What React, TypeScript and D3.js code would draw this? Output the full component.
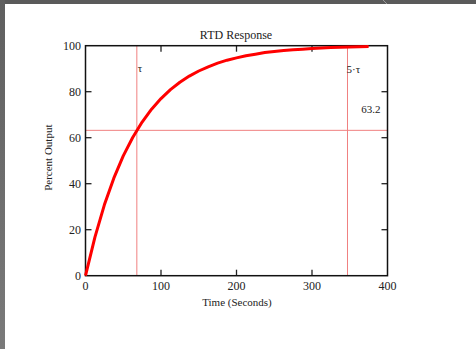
import React from "react";
import * as d3 from "d3";

// Data
const timeSeconds = [0, 12.5, 25, 37.5, 50, 62.5, 75, 87.5, 100, 112.5, 125, 137.5, 150, 162.5, 175, 187.5, 200, 212.5, 225, 237.5, 250, 262.5, 275, 287.5, 300, 312.5, 325, 337.5, 350, 362.5, 375];
const percentOutput = [0, 16.8, 30.8, 42.4, 52.1, 60.1, 66.8, 72.4, 77.0, 80.9, 84.1, 86.8, 89.0, 90.8, 92.4, 93.7, 94.7, 95.6, 96.3, 97.0, 97.5, 97.9, 98.2, 98.5, 98.8, 99.0, 99.2, 99.3, 99.4, 99.5, 99.6];
const xTicks = [0, 100, 200, 300, 400];
const yTicks = [0, 20, 40, 60, 80, 100];
const tauValue = 68;
const fiveTauValue = 347;
const markerLevel = 63.2;

const W = 476;
const H = 349;
const left = 85.5, right = 387.5, top = 45.7, bottom = 275.7;

export default function App() {
  const x = d3.scaleLinear().domain([0, 400]).range([left, right]);
  const y = d3.scaleLinear().domain([0, 100]).range([bottom, top]);
  const pts = timeSeconds.map((t, i) => [t, percentOutput[i]] as [number, number]);
  const line = d3.line<[number, number]>().x(d => x(d[0])).y(d => y(d[1]));
  const font = "'Liberation Serif', 'Times New Roman', serif";
  const tick = 6;
  return (
    <svg width={W} height={H} style={{ position: "absolute", left: 0, top: 0, background: "#fff" }} fontFamily={font}>
      <defs>
        <linearGradient id="lg" x1="0" y1="0" x2="0" y2="1">
          <stop offset="0" stopColor="#5f5f5f" />
          <stop offset="1" stopColor="#7a7a7a" />
        </linearGradient>
      </defs>
      <rect x={0} y={0} width={W} height={H} fill="#fff" />
      <rect x={0} y={0} width={W} height={4} fill="#5a5a5a" />
      <line x1={383} y1={0} x2={387} y2={4} stroke="#9a9a9a" strokeWidth={1} />
      <rect x={0} y={0} width={5} height={H} fill="url(#lg)" />

      <text x={236} y={39} textAnchor="middle" fontSize={12} fill="#222">RTD Response</text>

      {/* reference lines */}
      <line x1={x(tauValue)} x2={x(tauValue)} y1={top} y2={bottom} stroke="#f08080" strokeWidth={1} />
      <line x1={x(fiveTauValue)} x2={x(fiveTauValue)} y1={top} y2={bottom} stroke="#f08080" strokeWidth={1} />
      <line x1={left} x2={right} y1={y(markerLevel)} y2={y(markerLevel)} stroke="#f08080" strokeWidth={1} />

      {/* ticks */}
      {yTicks.slice(1, -1).map(v => (
        <g key={"yt" + v}>
          <line x1={left} x2={left + tick} y1={y(v)} y2={y(v)} stroke="#222" strokeWidth={1.3} />
          <line x1={right} x2={right - tick} y1={y(v)} y2={y(v)} stroke="#222" strokeWidth={1.3} />
        </g>
      ))}
      {xTicks.slice(1, -1).map(v => (
        <g key={"xt" + v}>
          <line x1={x(v)} x2={x(v)} y1={bottom} y2={bottom - tick} stroke="#222" strokeWidth={1.3} />
          <line x1={x(v)} x2={x(v)} y1={top} y2={top + tick} stroke="#222" strokeWidth={1.3} />
        </g>
      ))}

      <rect x={left} y={top} width={right - left} height={bottom - top} fill="none" stroke="#111" strokeWidth={1.5} />

      <path d={line(pts) || ""} fill="none" stroke="#ff0000" strokeWidth={3} strokeLinejoin="round" />

      {/* tick labels */}
      {yTicks.map(v => (
        <text key={"yl" + v} x={81} y={y(v)} dy="0.35em" textAnchor="end" fontSize={12} fill="#222">{v}</text>
      ))}
      {xTicks.map(v => (
        <text key={"xl" + v} x={x(v)} y={290} textAnchor="middle" fontSize={12} fill="#222">{v}</text>
      ))}

      <text x={237} y={305.5} textAnchor="middle" fontSize={11} fill="#222">Time (Seconds)</text>
      <text transform="translate(52.2,157.7) rotate(-90)" textAnchor="middle" fontSize={11} fill="#222">Percent Output</text>

      <text x={x(tauValue) + 1} y={72} fontSize={11} fill="#222">τ</text>
      <text x={x(fiveTauValue) - 1} y={72.5} fontSize={11} fill="#222">5·τ</text>
      <text x={380.5} y={113} textAnchor="end" fontSize={11} fill="#222">{markerLevel}</text>
    </svg>
  );
}
